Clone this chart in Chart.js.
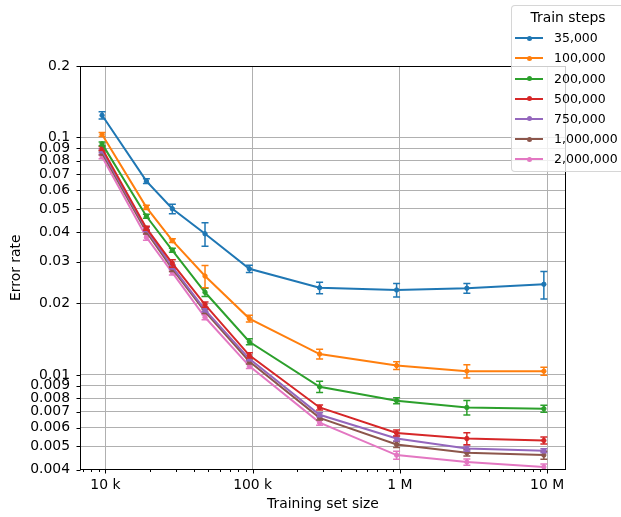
<!DOCTYPE html>
<html><head><meta charset="utf-8">
<script src="https://cdn.jsdelivr.net/npm/chart.js@4.4.1/dist/chart.umd.min.js"></script>
<style>
html,body{margin:0;padding:0;overflow:hidden;background:#fff;}
#wrap{position:relative;width:621px;height:517px;overflow:hidden;}
canvas{position:absolute;left:0;top:0;}
#legend{position:absolute;left:511px;top:5px;width:140px;height:167px;background:rgba(255,255,255,0.8);border:1px solid rgba(204,204,204,0.8);border-radius:4px;box-sizing:border-box;font-family:"DejaVu Sans";color:#000;}
#legend .ttl{position:absolute;left:0;width:112px;text-align:center;font-size:13.9px;line-height:18px;white-space:nowrap;}
#legend .ln{position:absolute;height:2px;width:28px;}
#legend .dot{position:absolute;width:5px;height:5px;border-radius:50%;}
#legend .tx{position:absolute;font-size:12.5px;line-height:16px;white-space:nowrap;}
</style></head><body>
<div id="wrap"><canvas id="c" width="621" height="517"></canvas><div id="legend"></div></div>
<script>
// ---- data ----
const trainingSetSizes = [9500, 19000, 28500, 47500, 95000, 285000, 950000, 2850000, 9500000];
const seriesNames = ['35,000', '100,000', '200,000', '500,000', '750,000', '1,000,000', '2,000,000'];
const seriesColors = ['#1f77b4', '#ff7f0e', '#2ca02c', '#d62728', '#9467bd', '#8c564b', '#e377c2'];

const steps35k  = [0.124, 0.0655, 0.0501, 0.0393, 0.0280, 0.0233, 0.0228, 0.0232, 0.0241];
const err35k    = [0.0045, 0.0015, 0.0023, 0.0045, 0.0010, 0.0013, 0.0015, 0.0011, 0.0032];
const steps100k = [0.1029, 0.0508, 0.0368, 0.0261, 0.01728, 0.01225, 0.01096, 0.01038, 0.01038];
const err100k   = [0.0020, 0.0010, 0.0007, 0.0028, 0.00056, 0.00057, 0.00041, 0.00067, 0.00041];
const steps200k = [0.094, 0.0466, 0.0335, 0.0223, 0.0138, 0.00892, 0.00779, 0.0073, 0.00721];
const err200k   = [0.0018, 0.0009, 0.00065, 0.00088, 0.0004, 0.00049, 0.00023, 0.00051, 0.00025];
const steps500k = [0.090, 0.0415, 0.0295, 0.0198, 0.0121, 0.0073, 0.0057, 0.0054, 0.0053];
const err500k   = [0.0017, 0.0008, 0.0011, 0.0005, 0.0003, 0.00018, 0.00017, 0.00031, 0.00018];
const steps750k = [0.088, 0.041, 0.0285, 0.0188, 0.0117, 0.0068, 0.0054, 0.0049, 0.0048];
const err750k   = [0.0017, 0.0008, 0.00055, 0.00036, 0.00023, 0.00013, 0.00013, 0.00012, 0.00009];
const steps1m   = [0.086, 0.040, 0.028, 0.0185, 0.0114, 0.0066, 0.0051, 0.0047, 0.0046];
const err1m     = [0.0017, 0.0008, 0.0007, 0.00036, 0.00028, 0.00013, 0.00015, 0.00014, 0.00018];
const steps2m   = [0.083, 0.038, 0.027, 0.0175, 0.0109, 0.0063, 0.0046, 0.0043, 0.0041];
const err2m     = [0.0016, 0.0011, 0.00065, 0.00042, 0.00026, 0.00015, 0.00018, 0.00013, 0.00012];

const xMajorTicks  = [10000, 100000, 1000000, 10000000];
const xMajorLabels = ['10 k', '100 k', '1 M', '10 M'];
const xMinorTicks  = [7000, 8000, 9000, 20000, 30000, 40000, 50000, 60000, 70000, 80000, 90000,
                      200000, 300000, 400000, 500000, 600000, 700000, 800000, 900000,
                      2000000, 3000000, 4000000, 5000000, 6000000, 7000000, 8000000, 9000000];
const yTicks      = [0.004, 0.005, 0.006, 0.007, 0.008, 0.009, 0.01, 0.02, 0.03, 0.04, 0.05, 0.06, 0.07, 0.08, 0.09, 0.1, 0.2];
const yTickLabels = ['0.004', '0.005', '0.006', '0.007', '0.008', '0.009', '0.01', '0.02', '0.03', '0.04', '0.05', '0.06', '0.07', '0.08', '0.09', '0.1', '0.2'];

const allValues = [steps35k, steps100k, steps200k, steps500k, steps750k, steps1m, steps2m];
const allErrors = [err35k, err100k, err200k, err500k, err750k, err1m, err2m];

// ---- chart ----
const FONT = 'DejaVu Sans';
const datasets = allValues.map((vals, i) => ({
  label: seriesNames[i],
  data: vals.map((v, j) => ({x: trainingSetSizes[j], y: v})),
  errors: allErrors[i],
  borderColor: seriesColors[i],
  backgroundColor: seriesColors[i],
  pointBackgroundColor: seriesColors[i],
  pointBorderColor: seriesColors[i],
  pointRadius: 2.2,
  pointBorderWidth: 1,
  borderWidth: 2,
  tension: 0,
  fill: false
}));

const errorBarPlugin = {
  id: 'errorBars',
  afterDatasetDraw(chart, args) {
    const ds = chart.data.datasets[args.index];
    const xs = chart.scales.x, ys = chart.scales.y, ca = chart.chartArea;
    const ctx = chart.ctx;
    ctx.save();
    ctx.beginPath();
    ctx.rect(ca.left, ca.top, ca.right - ca.left, ca.bottom - ca.top);
    ctx.clip();
    ctx.strokeStyle = ds.borderColor;
    ctx.lineWidth = 1.5;
    ds.data.forEach((p, j) => {
      const e = ds.errors[j];
      const px = xs.getPixelForValue(p.x);
      const pt = ys.getPixelForValue(p.y + e);
      const pb = ys.getPixelForValue(p.y - e);
      ctx.beginPath();
      ctx.moveTo(px, pt); ctx.lineTo(px, pb);
      ctx.moveTo(px - 3.5, pt); ctx.lineTo(px + 3.5, pt);
      ctx.moveTo(px - 3.5, pb); ctx.lineTo(px + 3.5, pb);
      ctx.stroke();
    });
    ctx.restore();
  }
};

const framePlugin = {
  id: 'frame',
  afterDatasetsDraw(chart) {
    const ctx = chart.ctx, ca = chart.chartArea;
    const xs = chart.scales.x, ys = chart.scales.y;
    ctx.save();
    ctx.strokeStyle = '#000';
    ctx.lineWidth = 1;
    const L = Math.round(ca.left) + 0.5, R = Math.round(ca.right) - 0.5;
    const T = Math.round(ca.top) + 0.5, B = Math.round(ca.bottom) - 0.5;
    ctx.strokeRect(L, T, R - L, B - T);
    ctx.beginPath();
    xMajorTicks.forEach(v => {
      const p = Math.round(xs.getPixelForValue(v)) + 0.5;
      ctx.moveTo(p, B); ctx.lineTo(p, B + 4);
    });
    xMinorTicks.forEach(v => {
      const p = Math.round(xs.getPixelForValue(v)) + 0.5;
      if (p < ca.left || p > ca.right) return;
      ctx.moveTo(p, B); ctx.lineTo(p, B + 2.5);
    });
    yTicks.forEach(v => {
      const p = Math.round(ys.getPixelForValue(v)) + 0.5;
      ctx.moveTo(L, p); ctx.lineTo(L - 4, p);
    });
    ctx.stroke();
    ctx.restore();
  }
};

new Chart(document.getElementById('c'), {
  type: 'line',
  data: { datasets },
  options: {
    responsive: false,
    animation: false,
    events: [],
    layout: { padding: { left: 0, right: 55, top: 66, bottom: 0 } },
    plugins: { legend: { display: false }, tooltip: { enabled: false } },
    scales: {
      x: {
        type: 'logarithmic',
        bounds: 'data',
        min: 6726, max: 13430000,
        afterBuildTicks: (s) => { s.ticks = xMajorTicks.map(v => ({ value: v })); },
        afterFit: (s) => { s.height = 47.5; },
        ticks: {
          autoSkip: false, maxRotation: 0, minRotation: 0, padding: 8,
          color: '#000', font: { family: FONT, size: 13.9 },
          callback: (v) => { const i = xMajorTicks.indexOf(v); return i >= 0 ? xMajorLabels[i] : ''; }
        },
        grid: { color: '#b0b0b0', lineWidth: 1, drawTicks: false },
        border: { display: false },
        title: { display: true, text: 'Training set size', color: '#000',
                 font: { family: FONT, size: 13.9 }, padding: { top: 0, bottom: 4 } }
      },
      y: {
        type: 'logarithmic',
        bounds: 'data',
        min: 0.004, max: 0.2,
        afterBuildTicks: (s) => { s.ticks = yTicks.map(v => ({ value: v })); },
        afterFit: (s) => { s.width = 80; },
        ticks: {
          autoSkip: false, padding: 10,
          color: '#000', font: { family: FONT, size: 13.9 },
          callback: (v) => { const i = yTicks.indexOf(v); return i >= 0 ? yTickLabels[i] : ''; }
        },
        grid: { color: '#b0b0b0', lineWidth: 1, drawTicks: false },
        border: { display: false },
        title: { display: true, text: 'Error rate', color: '#000',
                 font: { family: FONT, size: 13.9 }, padding: { top: 8.5, bottom: 0 } }
      }
    }
  },
  plugins: [errorBarPlugin, framePlugin]
});

// ---- legend (HTML text) ----
const leg = document.getElementById('legend');
const ttl = document.createElement('div');
ttl.className = 'ttl'; ttl.textContent = 'Train steps'; ttl.style.top = '2px';
leg.appendChild(ttl);
seriesNames.forEach((name, i) => {
  const cy = 32.3 + i * 20.15; // centre relative to legend box (inside border)
  const ln = document.createElement('div');
  ln.className = 'ln'; ln.style.left = '3px'; ln.style.top = (cy - 1) + 'px'; ln.style.background = seriesColors[i];
  const dot = document.createElement('div');
  dot.className = 'dot'; dot.style.left = '14.5px'; dot.style.top = (cy - 2.5) + 'px'; dot.style.background = seriesColors[i];
  const tx = document.createElement('div');
  tx.className = 'tx'; tx.style.left = '42px'; tx.style.top = (cy - 8) + 'px'; tx.textContent = name;
  leg.appendChild(ln); leg.appendChild(dot); leg.appendChild(tx);
});
</script>
</body></html>
